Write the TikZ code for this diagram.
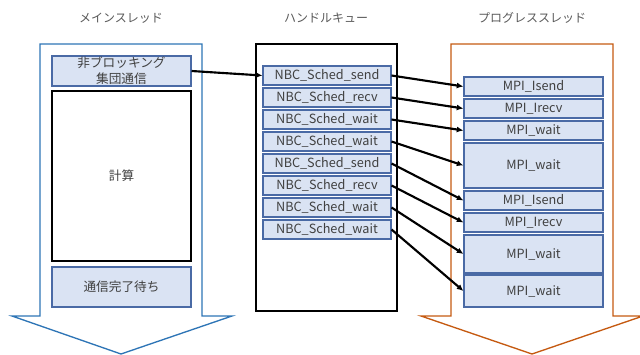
\documentclass[tikz,border=0pt]{standalone}
\usepackage{fontspec}
\setmainfont{Noto Sans CJK JP}
\usepackage{xcolor}
\usetikzlibrary{arrows.meta, positioning}
\definecolor{boxfill}{HTML}{DAE3F3}
\definecolor{boxline}{HTML}{4A6AA5}
\definecolor{mainline}{HTML}{2E75B6}
\definecolor{progline}{HTML}{C55A11}
\definecolor{textgray}{HTML}{404040}
\definecolor{titlegray}{HTML}{595959}

\begin{document}
\begin{tikzpicture}[x=0.75pt, y=-0.75pt,
    every node/.style={text=textgray, font=\fontsize{9.5}{11}\selectfont},
    taskbox/.style={draw=boxline, line width=0.8pt, fill=boxfill, minimum width=104.25pt, inner sep=0pt, align=center},
    nbcbox/.style={taskbox, minimum width=96pt, minimum height=14.25pt},
    title/.style={text=titlegray, font=\fontsize{9}{11}\selectfont},
    conn/.style={-{Latex[length=5pt, width=4.5pt]}, line width=1.6pt, black}]
    \useasboundingbox (0,0) rectangle (640,354);

    % thread arrows
    \draw[mainline, line width=1pt, fill=white] (40,44) -- (202,44) -- (202,316) -- (232,316) -- (121,354) -- (12,316) -- (40,316) -- cycle;
    \draw[progline, line width=1pt, fill=white] (451,44) -- (613,44) -- (613,316) -- (643,316) -- (532,354) -- (421,316) -- (451,316) -- cycle;

    \node[title] (tmain) at (121,18) {メインスレッド};
    \node[title] (tqueue) at (326,18) {ハンドルキュー};
    \node[title] (tprog) at (532,18) {プログレススレッド};

    % main thread
    \node[taskbox, minimum height=22.5pt, font=\fontsize{9.5}{12}\selectfont] (nb) at (121.5,71) {非ブロッキング\\集団通信};
    \node[draw=black, line width=0.8pt, fill=white, minimum width=104.25pt, minimum height=127.5pt] (calc) at (121.5,176) {計算};
    \node[taskbox, minimum height=30pt] (wait) at (121.5,287) {通信完了待ち};

    % handle queue
    \node[draw=black, line width=0.8pt, fill=white, minimum width=105.75pt, minimum height=200.25pt] (queue) at (326.5,177.5) {};
    \node[nbcbox] (q1) at (327,75.5) {NBC\_Sched\_send};
    \node[nbcbox] (q2) at (327,97.5) {NBC\_Sched\_recv};
    \node[nbcbox] (q3) at (327,119.5) {NBC\_Sched\_wait};
    \node[nbcbox] (q4) at (327,141.5) {NBC\_Sched\_wait};
    \node[nbcbox] (q5) at (327,163.5) {NBC\_Sched\_send};
    \node[nbcbox] (q6) at (327,185.5) {NBC\_Sched\_recv};
    \node[nbcbox] (q7) at (327,207.5) {NBC\_Sched\_wait};
    \node[nbcbox] (q8) at (327,229.5) {NBC\_Sched\_wait};

    % progress thread
    \node[taskbox, minimum height=14.25pt] (m1) at (533.5,86.5) {MPI\_Isend};
    \node[taskbox, minimum height=14.25pt] (m2) at (533.5,108.5) {MPI\_Irecv};
    \node[taskbox, minimum height=14.25pt] (m3) at (533.5,130.5) {MPI\_wait};
    \node[taskbox, minimum height=33.75pt] (m4) at (533.5,165.5) {MPI\_wait};
    \node[taskbox, minimum height=14.25pt] (m5) at (533.5,200.5) {MPI\_Isend};
    \node[taskbox, minimum height=14.25pt] (m6) at (533.5,222.5) {MPI\_Irecv};
    \node[taskbox, minimum height=28.5pt] (m7) at (533.5,254) {MPI\_wait};
    \node[taskbox, minimum height=24pt] (m8) at (533.5,291) {MPI\_wait};

    \draw[conn] (nb.east) -- (q1.west);
    \draw[conn] (q1.east) -- (m1.west);
    \draw[conn] (q2.east) -- (m2.west);
    \draw[conn] (q3.east) -- (m3.west);
    \draw[conn] (q4.east) -- (m4.west);
    \draw[conn] (q5.east) -- (m5.west);
    \draw[conn] (q6.east) -- (m6.west);
    \draw[conn] (q7.east) -- (m7.west);
    \draw[conn] (q8.east) -- (m8.west);
\end{tikzpicture}
\end{document}
